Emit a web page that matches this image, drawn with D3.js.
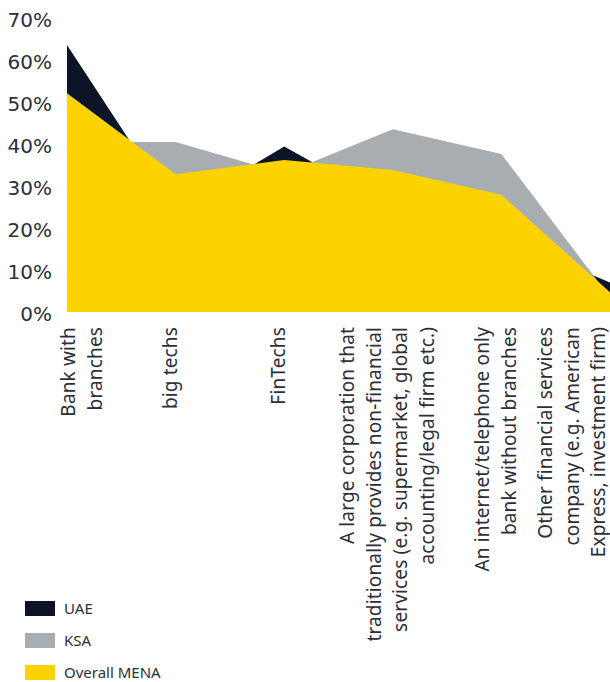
<!DOCTYPE html>
<html>
<head>
<meta charset="utf-8">
<script src="https://cdn.jsdelivr.net/npm/d3@7"></script>
<style>
  body { margin: 0; background: #fff; }
  svg { display: block; font-family: "Noto Sans", sans-serif; }
</style>
</head>
<body>
<div id="chart"></div>
<script>
// Categories and their wrapped label lines
var categories = ['bank', 'bigtech', 'fintech', 'corp', 'online', 'other'];
var categoryLines = [
    ['Bank with', 'branches'],
    ['big techs'],
    ['FinTechs'],
    ['A large corporation that', 'traditionally provides non-financial', 'services (e.g. supermarket, global', 'accounting/legal firm etc.)'],
    ['An internet/telephone only', 'bank without branches'],
    ['Other financial services', 'company (e.g. American', 'Express, investment firm)']
];

// Series values (share of respondents)
var uae = [0.636, 0.241, 0.394, 0.25, 0.18, 0.07];
var ksa = [0.405, 0.405, 0.33, 0.435, 0.376, 0.035];
var mena = [0.521, 0.328, 0.362, 0.338, 0.279, 0.047];

var yTicks = [0, 0.1, 0.2, 0.3, 0.4, 0.5, 0.6, 0.7];
var seriesNames = ['UAE', 'KSA', 'Overall MENA'];

var width = 610, height = 682;
var textColor = '#2e2e38';
var colors = { 'UAE': '#0b1527', 'KSA': '#a8adb2', 'Overall MENA': '#fcd200' };

var svg = d3.select('#chart').append('svg')
    .attr('width', width)
    .attr('height', height);

var x = d3.scalePoint().domain(categories).range([67, 610]);
var y = d3.scaleLinear().domain([0, 0.7]).range([312, 18]);

// Areas, back to front
var area = d3.area()
    .x(function(d, i) { return x(categories[i]); })
    .y0(y(0))
    .y1(function(d) { return y(d); });

[['UAE', uae], ['KSA', ksa], ['Overall MENA', mena]].forEach(function(s) {
    svg.append('path')
        .datum(s[1])
        .attr('d', area)
        .attr('fill', colors[s[0]]);
});

// Y axis labels
var yAxis = d3.axisLeft(y)
    .tickValues(yTicks)
    .tickFormat(d3.format('.0%'))
    .tickSize(0)
    .tickPadding(0);

var yg = svg.append('g')
    .attr('transform', 'translate(52,2)')
    .call(yAxis);
yg.select('.domain').remove();
yg.selectAll('text')
    .attr('fill', textColor)
    .style('font-size', '20px')
    .style('font-family', '"DejaVu Sans", sans-serif');

// X axis labels, rotated, wrapped
var lineGap = 26.5;
var first = x.range()[0] + 1, last = x.range()[1] - 12;
categories.forEach(function(c, i) {
    var lines = categoryLines[i];
    var half = (lines.length - 1) / 2 * lineGap;
    var cx = Math.max(first + half, Math.min(last - half, x(c) - 6));
    lines.forEach(function(line, j) {
        var lx = cx + (j - (lines.length - 1) / 2) * lineGap;
        svg.append('text')
            .attr('transform', 'translate(' + lx + ',327) rotate(-90)')
            .attr('text-anchor', 'end')
            .attr('dominant-baseline', 'central')
            .attr('fill', textColor)
            .style('font-size', '19px')
            .style('letter-spacing', '0.15px')
            .text(line);
    });
});

// Legend
var legend = svg.append('g').attr('transform', 'translate(25,608)');
seriesNames.forEach(function(name, i) {
    var row = legend.append('g').attr('transform', 'translate(0,' + i * 32 + ')');
    row.append('rect')
        .attr('x', 0)
        .attr('y', -7)
        .attr('width', 30)
        .attr('height', 15)
        .attr('fill', colors[name]);
    row.append('text')
        .attr('x', 39)
        .attr('y', 0)
        .attr('dominant-baseline', 'central')
        .attr('fill', textColor)
        .style('font-size', '15px')
        .text(name);
});
</script>
</body>
</html>
